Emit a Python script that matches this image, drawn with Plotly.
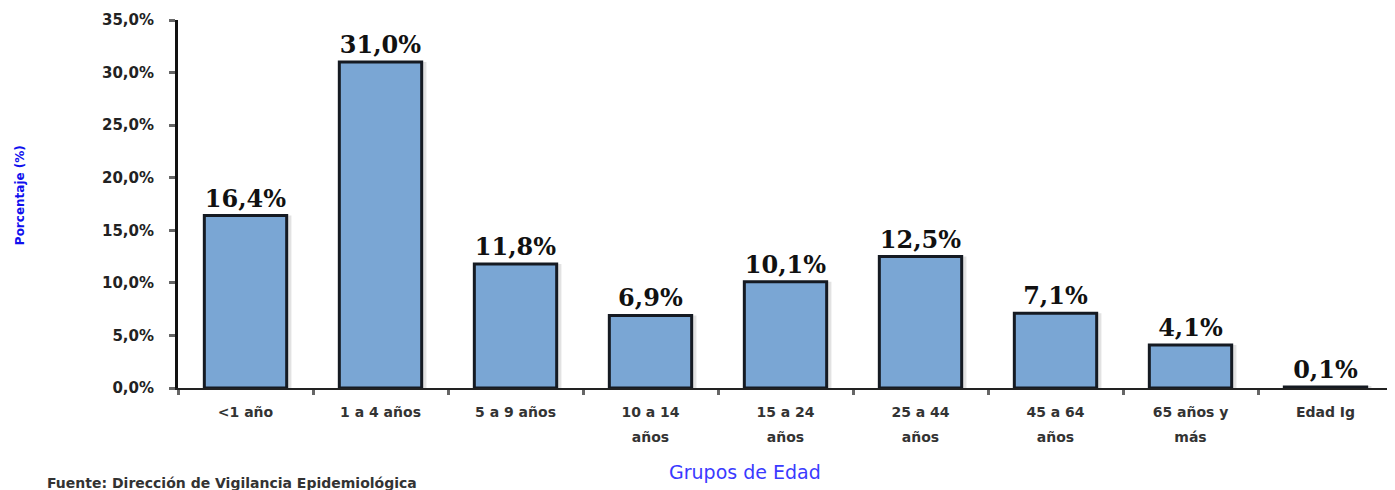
import plotly.graph_objects as go

categories = ["<1 año", "1 a 4 años", "5 a 9 años", "10 a 14<br>años", "15 a 24<br>años",
              "25 a 44<br>años", "45 a 64<br>años", "65 años y<br>más", "Edad Ig"]
values = [16.4, 31.0, 11.8, 6.9, 10.1, 12.5, 7.1, 4.1, 0.1]
y_ticks = [0, 5, 10, 15, 20, 25, 30, 35]
y_tick_labels = [f"{v:.1f}".replace(".", ",") + "%" for v in y_ticks]
x_tick_labels = [f'<span style="font-size:14px">{c}</span>' for c in categories]

BAR_W = 0.61
fig = go.Figure()
# soft shadow to the right of each bar
fig.add_trace(go.Bar(
    x=categories, y=values, width=BAR_W, offset=-BAR_W / 2 + 0.035,
    marker=dict(color="#e2e2e2", line=dict(width=0)),
    hoverinfo="skip",
))
fig.add_trace(go.Bar(
    x=categories, y=values, width=BAR_W, offset=-BAR_W / 2,
    marker=dict(color="#7aa6d4", line=dict(color="#151a22", width=3)),
    texttemplate="%{y:.1f}%", textposition="outside", cliponaxis=False,
    textfont=dict(family="DejaVu Serif", size=24, color="#111", weight="bold"),
))

W, H = 1387, 482
fig.update_layout(
    width=W, height=H,
    margin=dict(l=170, r=2, t=12, b=102),
    paper_bgcolor="white", plot_bgcolor="white",
    barmode="overlay",
    showlegend=False,
    xaxis=dict(
        showline=True, linecolor="#222", linewidth=2,
        ticks="outside", tickson="boundaries", ticklen=5, tickcolor="#666", tickwidth=3,
        tickvals=categories, ticktext=x_tick_labels,
        ticklabelstandoff=4,
        tickfont=dict(family="DejaVu Sans", size=19, color="#333", weight="bold"),
        showgrid=False, range=[-0.5, 8.5],
    ),
    yaxis=dict(
        range=[0, 35], tickvals=y_ticks, ticktext=y_tick_labels,
        showline=True, linecolor="#111", linewidth=3,
        ticks="outside", ticklen=6, tickcolor="#666", tickwidth=3,
        ticklabelstandoff=12,
        tickfont=dict(family="DejaVu Sans", size=15, color="#222", weight="bold"),
        showgrid=False, zeroline=False,
    ),
    separators=",.",
    annotations=[
        dict(text="Porcentaje (%)", xref="paper", yref="paper", x=(12 - 170) / 1215, y=0.524,
             textangle=-90, showarrow=False, xanchor="center", yanchor="middle",
             font=dict(family="DejaVu Sans", size=12, color="#1010ee", weight="bold")),
        dict(text="Grupos de Edad", xref="paper", yref="paper", x=0.467, y=-0.228,
             showarrow=False, xanchor="center", yanchor="middle",
             font=dict(family="DejaVu Sans", size=19, color="#3a3aff")),
        dict(text="Fuente: Dirección de Vigilancia Epidemiológica", xref="paper", yref="paper",
             x=(37 - 170) / 1215, y=-0.258, showarrow=False, xanchor="left", yanchor="middle",
             font=dict(family="DejaVu Sans", size=14, color="#333", weight="bold")),
    ],
)

fig.write_html("out.html")
